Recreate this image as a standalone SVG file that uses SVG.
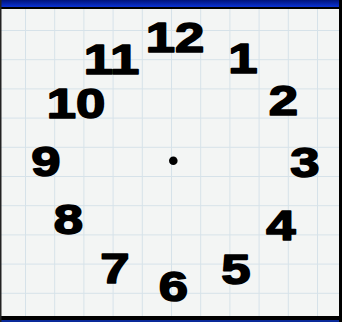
<svg xmlns="http://www.w3.org/2000/svg" width="342" height="322" viewBox="0 0 342 322">
<defs>
<linearGradient id="bar" x1="0" y1="0" x2="0" y2="1">
<stop offset="0" stop-color="#00137a"/>
<stop offset="1" stop-color="#0a33d4"/>
</linearGradient>
<pattern id="grid" x="25" y="30" width="29.2" height="29.2" patternUnits="userSpaceOnUse">
<path d="M0.5 0 V29.2 M0 0.5 H29.2" fill="none" stroke="#d6e2e9" stroke-width="1"/>
</pattern>
</defs>
<style>
.n{font-family:"Liberation Sans",Arial,sans-serif;font-weight:bold;font-size:42.5px;fill:#000;stroke:#000;stroke-width:1.6px;stroke-linejoin:round;text-anchor:middle}
</style>
<rect x="0" y="0" width="342" height="322" fill="#f3f5f4"/>
<rect x="0" y="0" width="342" height="322" fill="url(#grid)"/>
<g id="frame">
<rect x="0" y="0" width="342" height="7" fill="url(#bar)"/>
<rect x="0" y="7" width="342" height="2" fill="#000"/>
<rect x="0" y="316" width="342" height="4" fill="#000"/>
<rect x="0" y="320" width="342" height="2" fill="#0a2a9a"/>
<rect x="0" y="0" width="1.5" height="322" fill="#222"/>
<rect x="339" y="0" width="3" height="322" fill="#000"/>
</g>
<g id="n12"><text class="n" transform="translate(175,51.5) scale(1.24,1)">12</text></g>
<g id="n1"><text class="n" transform="translate(243,72.5) scale(1.24,1)">1</text></g>
<g id="n2"><text class="n" transform="translate(283.5,114.5) scale(1.24,1)">2</text></g>
<g id="n3"><text class="n" transform="translate(305,176.5) scale(1.24,1)">3</text></g>
<g id="n4"><text class="n" transform="translate(281,239.5) scale(1.24,1)">4</text></g>
<g id="n5"><text class="n" transform="translate(236,283.5) scale(1.24,1)">5</text></g>
<g id="n6"><text class="n" transform="translate(173.5,300.5) scale(1.24,1)">6</text></g>
<g id="n7"><text class="n" transform="translate(115,282.5) scale(1.24,1)">7</text></g>
<g id="n8"><text class="n" transform="translate(68.5,234) scale(1.24,1)">8</text></g>
<g id="n9"><text class="n" transform="translate(46,176) scale(1.24,1)">9</text></g>
<g id="n10"><text class="n" transform="translate(76,117.5) scale(1.24,1)">10</text></g>
<g id="n11"><text class="n" transform="translate(111.5,73.5) scale(1.24,1)">11</text></g>
<g id="center"><circle cx="173.3" cy="160.7" r="4.3" fill="#000"/></g>
<g id="connectors"/>
</svg>
